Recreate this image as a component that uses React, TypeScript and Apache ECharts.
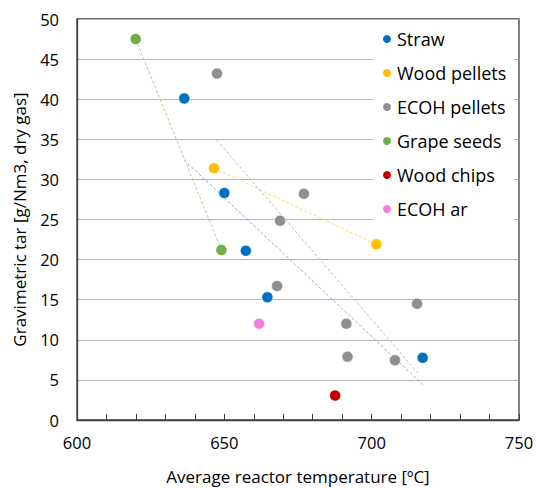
import React, { useEffect, useRef } from "react";
import * as echarts from "echarts";

const seriesNames = ["Straw", "Wood pellets", "ECOH pellets", "Grape seeds", "Wood chips", "ECOH ar"];
const seriesColors = ["#0070C0", "#FFC000", "#8F8F8F", "#70AD47", "#C00000", "#F47EDC"];

const straw = [[636.4, 40.1], [650.0, 28.3], [657.3, 21.1], [664.6, 15.3], [717.3, 7.75]];
const woodPellets = [[646.5, 31.4], [701.6, 21.9]];
const ecohPellets = [[647.5, 43.2], [677.0, 28.2], [668.9, 24.85], [667.9, 16.7], [691.4, 12.0], [715.4, 14.5], [691.8, 7.9], [707.9, 7.45]];
const grapeSeeds = [[619.9, 47.5], [649.0, 21.2]];
const woodChips = [[687.6, 3.05]];
const ecohAr = [[661.8, 12.0]];

const pointSets = [straw, woodPellets, ecohPellets, grapeSeeds, woodChips, ecohAr];

// trendline endpoints
const trendStraw = [[636.4, 32.4], [717.4, 4.4]];
const trendWoodPellets = [[646.5, 31.4], [701.6, 21.9]];
const trendEcohPellets = [[647.4, 34.9], [715.6, 5.9]];
const trendGrapeSeeds = [[619.9, 47.5], [649.0, 21.2]];
const trendColors = ["#8FAADC", "#FFD966", "#BDBDBD", "#A9D18E"];
const trendSets = [trendStraw, trendWoodPellets, trendEcohPellets, trendGrapeSeeds];

const xMin = 600, xMax = 750, xStep = 50;
const yMin = 0, yMax = 50, yStep = 5;

const FONT = "Open Sans";

export default function App() {
  const ref = useRef<HTMLDivElement>(null);
  useEffect(() => {
    if (!ref.current) return;
    const chart = echarts.init(ref.current, null, { renderer: "svg" });
    const trendSeries = trendSets.map((d, i) => ({
      type: "line",
      name: "trend" + i,
      data: d,
      symbol: "none",
      silent: true,
      z: 1,
      lineStyle: { color: trendColors[i], width: 1, type: [3, 2] },
    }));
    const scatterSeries = pointSets.map((d, i) => ({
      type: "scatter",
      name: seriesNames[i],
      data: d,
      symbol: "circle",
      symbolSize: 11,
      z: 3,
      itemStyle: { color: seriesColors[i], borderColor: "#ffffff", borderWidth: 0.5, opacity: 1 },
    }));
    chart.setOption({
      animation: false,
      textStyle: { fontFamily: FONT },
      grid: {
        left: 77, top: 19, right: 17, bottom: 68,
        containLabel: false,
        outerBoundsMode: "none",
        show: true, borderColor: "#404040", borderWidth: 1.3, backgroundColor: "transparent",
      },
      legend: {
        data: seriesNames,
        orient: "vertical",
        left: 373,
        top: 23,
        padding: [6, 8, 6, 8],
        backgroundColor: "#ffffff",
        icon: "circle",
        itemWidth: 10,
        itemHeight: 10,
        itemGap: 14,
        textStyle: { fontFamily: FONT, fontSize: 18, color: "#000", lineHeight: 20 },
      },
      xAxis: {
        type: "value",
        min: xMin, max: xMax, interval: xStep,
        name: "Average reactor temperature [ºC]",
        nameLocation: "middle",
        nameGap: 47,
        nameTextStyle: { fontFamily: FONT, fontSize: 17, color: "#000", lineHeight: 18 },
        axisLine: { show: true, lineStyle: { color: "#404040", width: 1.3 } },
        axisTick: { show: true, inside: true, length: 6, lineStyle: { color: "#404040" } },
        minorTick: { show: true, splitNumber: 5, length: 6, lineStyle: { color: "#404040" } },
        axisLabel: { fontFamily: FONT, fontSize: 16.5, color: "#000", margin: 14 },
        splitLine: { show: false },
      },
      yAxis: {
        type: "value",
        min: yMin, max: yMax, interval: yStep,
        name: "Gravimetric tar [g/Nm3, dry gas]",
        nameLocation: "middle",
        nameGap: 49,
        nameTextStyle: { fontFamily: FONT, fontSize: 17, color: "#000" },
        axisLine: { show: true, lineStyle: { color: "#404040", width: 1.3 } },
        axisTick: { show: false },
        axisLabel: { fontFamily: FONT, fontSize: 16.5, color: "#000", margin: 18 },
        splitLine: { show: true, lineStyle: { color: "#B4B4B4", width: 1 } },
      },
      series: [...trendSeries, ...scatterSeries],
    });
    return () => chart.dispose();
  }, []);
  return <div ref={ref} style={{ width: 536, height: 488, position: "absolute", left: 0, top: 0 }} />;
}
